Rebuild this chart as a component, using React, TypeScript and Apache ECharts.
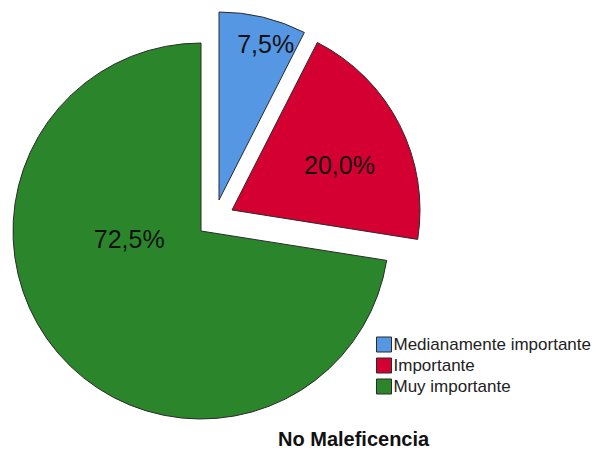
import React, { useEffect, useRef } from "react";
import * as echarts from "echarts";

const categories = ["Medianamente importante", "Importante", "Muy importante"];
const percentages = [7.5, 20.0, 72.5];
const sliceColors = ["#5597e3", "#d50032", "#2b862b"];
const titleText = "No Maleficencia";

// explode centers and label nudges (layout only)
const centers: [number, number][] = [
  [219, 200],
  [232, 210],
  [201, 231],
];
const labelShift = [
  { dx: 24, dy: -62 },
  { dx: 21, dy: -1 },
  { dx: 2, dy: -55 },
];

const FONT = "'Liberation Sans', Arial, sans-serif";

export default function App() {
  const ref = useRef<HTMLDivElement>(null);
  useEffect(() => {
    if (!ref.current) return;
    const chart = echarts.init(ref.current, undefined, { renderer: "svg" });
    const series = categories.map((_, si) => ({
      type: "pie",
      name: categories[si],
      center: centers[si],
      radius: 188,
      startAngle: 90,
      clockwise: true,
      avoidLabelOverlap: false,
      silent: true,
      labelLine: { show: false },
      labelLayout: labelShift[si],
      data: categories.map((name, j) => ({
        name,
        value: percentages[j],
        itemStyle:
          j === si
            ? { color: sliceColors[j], borderColor: "#2a2a2a", borderWidth: 1 }
            : { color: "transparent", borderWidth: 0 },
        label:
          j === si
            ? {
                show: true,
                position: "inside",
                formatter: (p: any) => p.value.toFixed(1).replace(".", ",") + "%",
                fontSize: 25,
                fontFamily: FONT,
                color: "#111",
              }
            : { show: false },
      })),
    }));
    chart.setOption({
      animation: false,
      backgroundColor: "#fff",
      title: {
        text: titleText,
        left: 273,
        top: 424,
        textStyle: { fontSize: 20, fontWeight: "bold", fontFamily: FONT, color: "#111" },
      },
      legend: {
        orient: "vertical",
        left: 371,
        top: 331,
        itemWidth: 15,
        itemHeight: 15,
        itemGap: 4,
        icon: "rect",
        selectedMode: false,
        textStyle: { fontSize: 17, fontFamily: FONT, color: "#222", padding: [0, 0, 0, -3] },
        data: categories.map((name, i) => ({
          name,
          itemStyle: { color: sliceColors[i], borderColor: "#2a2a2a", borderWidth: 1 },
        })),
      },
      series,
    });
    return () => chart.dispose();
  }, []);
  return (
    <div
      ref={ref}
      style={{ position: "absolute", left: 0, top: 0, width: 600, height: 457 }}
    />
  );
}
